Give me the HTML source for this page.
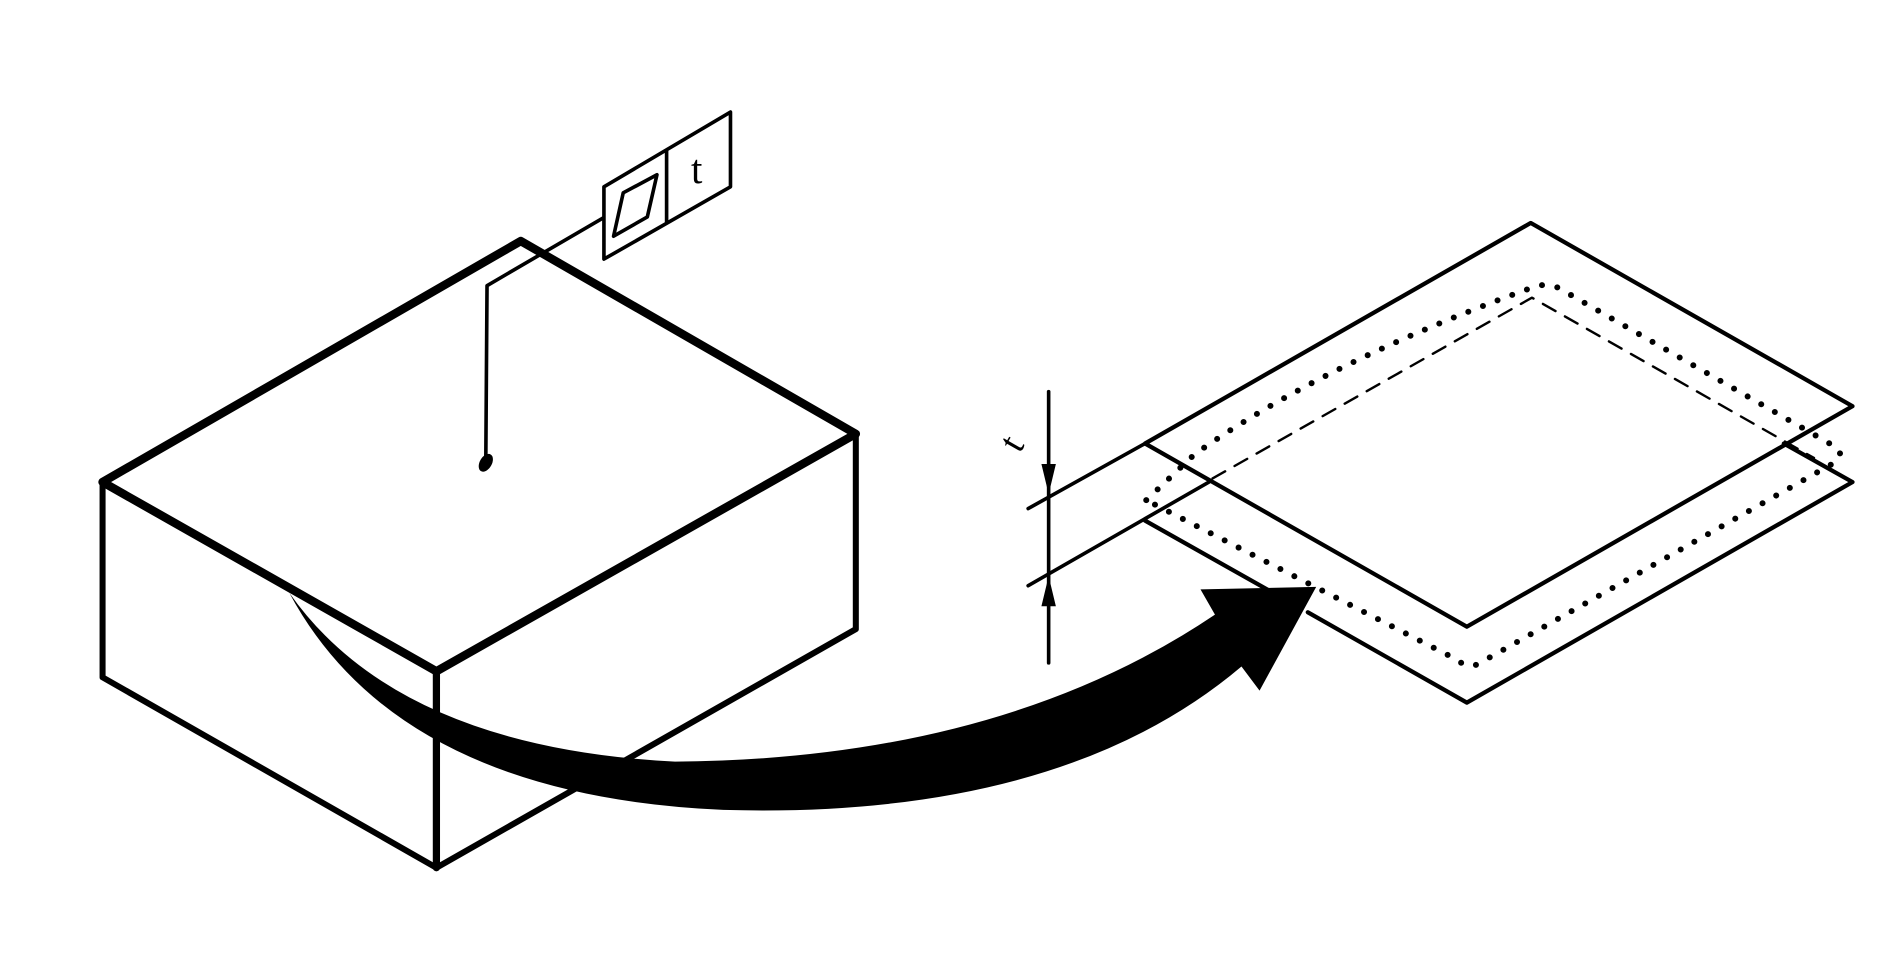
<!DOCTYPE html>
<html><head><meta charset="utf-8"><style>html,body{margin:0;padding:0;background:#fff}svg{display:block}</style></head>
<body>
<svg width="1890" height="975" viewBox="0 0 1568 809" xmlns="http://www.w3.org/2000/svg">
<g fill="none" stroke="#000" stroke-linejoin="round" stroke-linecap="round">
<!-- box -->
<path d="M85 400 L432 200 L710 360 L362 557 Z" stroke-width="7"/>
<path d="M85 400 L85 562 L362 720 L710 522 L710 360" stroke-width="5"/>
<path d="M362 557 L362 720" stroke-width="6"/>
<!-- leader & frame -->
<path d="M403 380 L404 237 L500 181" stroke-width="3"/>
<path d="M501 155 L606 93 L606 155 L501 215 Z M553 125 L553 185" stroke-width="3"/>
<path d="M517 160 L545 145 L537 180 L509 196 Z" stroke-width="3"/>
<!-- plate -->
<path d="M950 368 L1270 185 L1537 337 L1217 520 Z" stroke-width="3.5"/>
<path d="M853 422 L950 368" stroke-width="3"/>
<path d="M853 486 L1003 400" stroke-width="3"/>
<path d="M950 432 L1053 490 M1085 508 L1217 583 L1537 400 L1480 368" stroke-width="3.5"/>
<path d="M951 415 L991 377 Q1100 300 1273 238 Q1285 234 1295 240 L1525 372 Q1530 380 1520 385 L1228 550 Q1218 556 1210 548 Z" stroke-width="5" stroke-dasharray="0 13"/>
<path d="M1006 397 L1271 247 L1505 380" stroke-width="2" stroke-dasharray="12 9"/>
<!-- dimension -->
<path d="M870 325 L870 550" stroke-width="3"/>
</g>
<ellipse cx="403" cy="384" rx="5" ry="8" transform="rotate(30 403 384)" fill="#000"/>
<path d="M870 410 L864 385 L876 385 Z M870 478 L864 503 L876 503 Z" fill="#000"/>
<text x="578" y="152" font-family="Liberation Serif, serif" font-size="34" text-anchor="middle">t</text>
<text x="843" y="376" font-family="Liberation Serif, serif" font-size="32" text-anchor="middle" transform="rotate(-60 843 370)">t</text>
<!-- big arrow -->
<path d="M240 492 Q330 660 600 672 Q880 680 1030 553 L1045 573 L1092 487 L996 489 L1008 510 Q830 630 560 632 Q330 620 240 492 Z" fill="#000"/>
</svg>
</body></html>
